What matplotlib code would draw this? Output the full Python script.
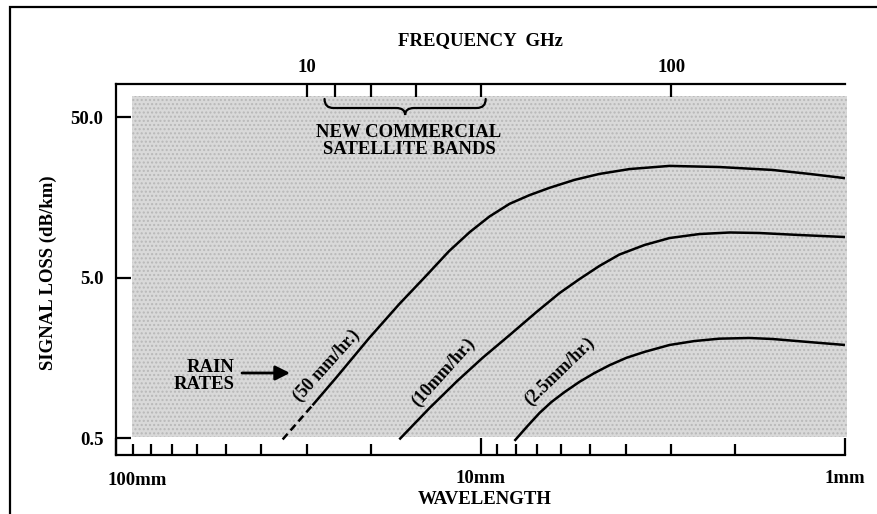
import numpy as np
import matplotlib
matplotlib.use('Agg')
import matplotlib.pyplot as plt
from matplotlib.patches import Rectangle, PathPatch
from matplotlib.path import Path
from matplotlib.transforms import IdentityTransform
from matplotlib.ticker import NullLocator

# signal loss (dB/km) against wavelength (mm) for three rain rates
wl_50_dash = [34.9, 28.9]
loss_50_dash = [0.49, 0.80]
wl_50 = [28.9, 24.8, 20.2, 16.7, 14.2, 12.2, 10.7, 9.45, 8.32, 7.34, 6.47, 5.52, 4.72,
         3.90, 3.03, 2.21, 1.58, 1.25, 1.0]
loss_50 = [0.80, 1.20, 2.10, 3.42, 5.04, 7.30, 9.60, 12.0, 14.4, 16.3, 18.1, 20.3, 22.1,
           23.7, 24.8, 24.4, 23.4, 22.1, 20.8]

wl_10 = [16.7, 13.8, 11.6, 9.87, 8.32, 7.02, 6.07, 5.35, 4.72, 4.16, 3.55, 3.03, 2.51,
         2.07, 1.72, 1.33, 1.0]
loss_10 = [0.49, 0.769, 1.13, 1.58, 2.19, 3.05, 4.00, 4.89, 5.90, 6.95, 7.97, 8.81, 9.33,
           9.54, 9.47, 9.20, 8.94]

wl_25 = [8.07, 7.43, 6.89, 6.39, 5.88, 5.35, 4.87, 4.43, 3.98, 3.55, 3.03, 2.59, 2.21,
         1.83, 1.58, 1.25, 1.0]
loss_25 = [0.48, 0.594, 0.716, 0.838, 0.967, 1.12, 1.27, 1.42, 1.58, 1.72, 1.90, 2.01, 2.08,
           2.10, 2.07, 1.98, 1.90]

loss_ticks = [50.0, 5.0, 0.5]
loss_labels = ['50.0', '5.0', '0.5']
wl_major = [100, 10, 1]
wl_labels = ['', '10mm', '1mm']
wl_minor = [90, 80, 70, 60, 50, 40, 30, 20, 9, 8, 7, 6, 5, 4, 3, 2]
freq_ticks = [10, 12, 15, 20, 30, 100]
freq_labels = ['10', '', '', '', '', '100']
band_ghz = (11.2, 31.0)   # new commercial satellite bands

plt.rcParams['font.family'] = 'Liberation Serif'
plt.rcParams['font.weight'] = 'bold'

W, H = 877, 514
fig = plt.figure(figsize=(W / 100, H / 100), dpi=100)
ax = fig.add_axes([116 / W, (H - 455) / H, 729 / W, 371 / H])
ax.set_xscale('log')
ax.set_yscale('log')
ax.set_xlim(100, 1)
ax.set_ylim(0.392, 80.3)

# stippled background
ax.add_patch(Rectangle((0.022, 0.0485), 0.981, 0.9195, transform=ax.transAxes,
                       facecolor='#d9d9d9', edgecolor='#b8b8b8', hatch='....',
                       lw=0, clip_on=False, zorder=0))

ax.plot(wl_50_dash, loss_50_dash, color='k', lw=1.8, ls=(0, (3, 1.8)))
for wl, loss in [(wl_50, loss_50), (wl_10, loss_10), (wl_25, loss_25)]:
    ax.plot(wl, loss, color='k', lw=1.8, solid_joinstyle='round', solid_capstyle='butt')

# axes styling
for s in ['left', 'bottom', 'top']:
    ax.spines[s].set_linewidth(1.6)
ax.spines['right'].set_visible(False)
ax.spines['top'].set_visible(False)

ax.set_yticks(loss_ticks)
ax.set_yticklabels(loss_labels)
ax.yaxis.set_minor_locator(NullLocator())
ax.tick_params(axis='y', direction='in', length=11, width=1.6, pad=9, labelsize=13.5)

ax.set_xticks(wl_major)
ax.set_xticklabels(wl_labels)
ax.set_xticks(wl_minor, minor=True)
ax.tick_params(axis='x', which='major', direction='in', length=12.5, width=1.6, pad=11,
               labelsize=13.5)
ax.tick_params(axis='x', which='minor', direction='in', length=8, width=1.6)
ax.text(0.029, -0.045, '100mm', transform=ax.transAxes, ha='center', va='top', fontsize=13.5)

ax2 = ax.twiny()
ax2.set_xscale('log')
ax2.set_xlim(300 / 100, 300 / 1)
ax2.set_xticks(freq_ticks)
ax2.set_xticklabels(freq_labels)
ax2.xaxis.set_minor_locator(NullLocator())
ax2.tick_params(axis='x', direction='in', length=9.5, width=1.6, pad=6, labelsize=13.5)
for s in ['left', 'right', 'bottom']:
    ax2.spines[s].set_visible(False)
ax2.spines['top'].set_linewidth(1.6)

fig.text(480 / W, 1 - 41 / H, 'FREQUENCY  GHz', ha='center', va='center', fontsize=13.5)
fig.text(485 / W, 1 - 500 / H, 'WAVELENGTH', ha='center', va='center', fontsize=13.5)
fig.text(48 / W, 1 - 273 / H, 'SIGNAL LOSS (dB/km)', ha='center', va='center',
         rotation=90, fontsize=13.5)

# rain-rate labels along the curves
ax.text(26.5, 1.41, '(50 mm/hr.)', rotation=48, ha='center', va='center',
        rotation_mode='anchor', fontsize=13)
ax.text(12.6, 1.29, '(10mm/hr.)', rotation=48, ha='center', va='center',
        rotation_mode='anchor', fontsize=13)
ax.text(6.07, 1.29, '(2.5mm/hr.)', rotation=44, ha='center', va='center',
        rotation_mode='anchor', fontsize=13)

fig.text(235 / W, 1 - 376 / H, 'RAIN\nRATES', ha='right', va='center',
         multialignment='right', fontsize=13.5, linespacing=1.0)
ax.annotate('', xy=(290, H - 373), xytext=(242, H - 373), xycoords='figure pixels',
            textcoords='figure pixels',
            arrowprops=dict(arrowstyle='-|>', color='k', lw=2, mutation_scale=22,
                            shrinkA=0, shrinkB=0))

ax.text(0.402, 0.846, 'NEW COMMERCIAL\nSATELLITE BANDS', transform=ax.transAxes,
        ha='center', va='center', fontsize=13.5, linespacing=1.0)

# curly brace over the satellite bands
x0 = ax.transData.transform((300 / band_ghz[0], 1))[0]
x1 = ax.transData.transform((300 / band_ghz[1], 1))[0]
xm = (x0 + x1) / 2
y_top = ax.transAxes.transform((0, 0.9596))[1]
y_mid = ax.transAxes.transform((0, 0.9353))[1]
y_tip = ax.transAxes.transform((0, 0.9164))[1]
c = 9
verts = [(x0, y_top), (x0, y_mid), (x0 + c, y_mid), (xm - c, y_mid), (xm, y_mid), (xm, y_tip),
         (xm, y_mid), (xm + c, y_mid), (x1 - c, y_mid), (x1, y_mid), (x1, y_top)]
codes = [Path.MOVETO, Path.CURVE3, Path.CURVE3, Path.LINETO, Path.CURVE3, Path.CURVE3,
         Path.CURVE3, Path.CURVE3, Path.LINETO, Path.CURVE3, Path.CURVE3]
fig.add_artist(PathPatch(Path(verts, codes), transform=IdentityTransform(), fill=False,
                         lw=1.6, edgecolor='k', capstyle='round'))

# outer frame of the figure
fig.add_artist(Rectangle((10 / W, -0.1), 1.2, 1.1 - 7 / H, transform=fig.transFigure,
                         fill=False, lw=1.6, edgecolor='k', clip_on=False))

fig.savefig('out.png', dpi=100)
